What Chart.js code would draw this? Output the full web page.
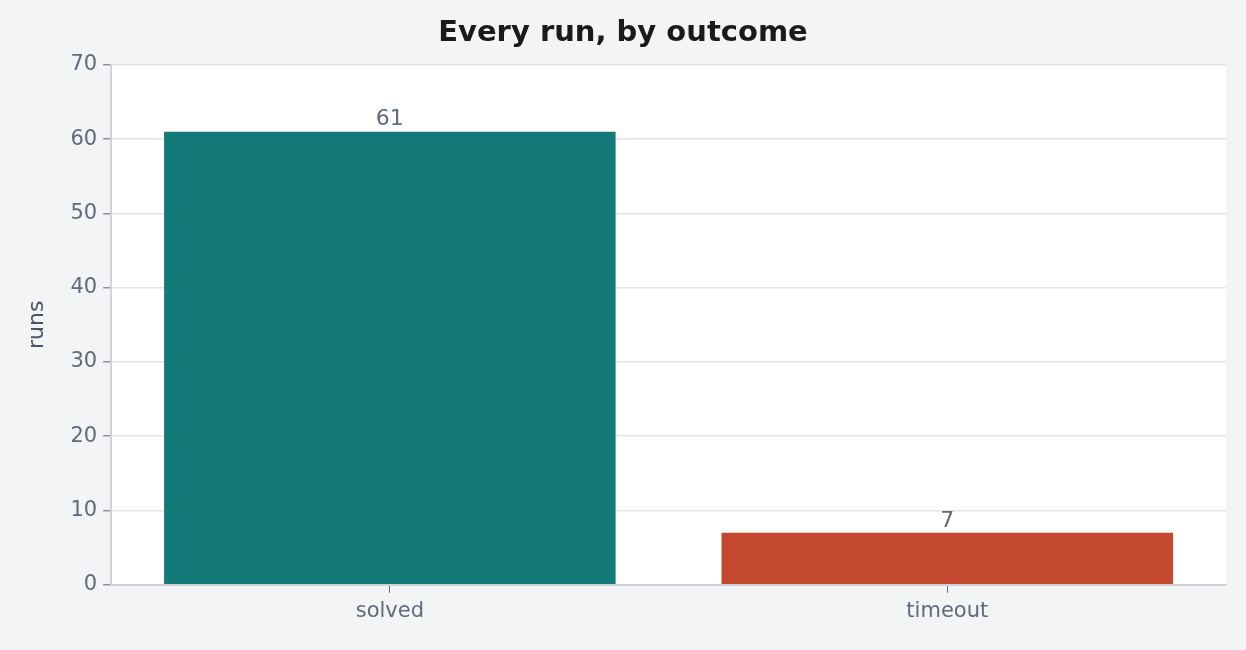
<!DOCTYPE html>
<html><head><meta charset="utf-8">
<script src="https://cdn.jsdelivr.net/npm/chart.js@4"></script>
<style>html,body{margin:0;background:#f3f4f6;}#w{width:1246px;height:650px;}</style>
</head><body><div id="w"><canvas id="c"></canvas></div>
<script>
const categories = ["solved", "timeout"];
const runs = [61, 7];
const colors = ["#137a79", "#c4482e"];
const yTicks = [0, 10, 20, 30, 40, 50, 60, 70];

const bgPlugin = {id:'bg', beforeDraw(ch){const a=ch.chartArea,c=ch.ctx;c.save();c.fillStyle='#ffffff';c.fillRect(a.left,a.top,a.right-a.left,a.bottom-a.top);c.restore();}};
const labelPlugin = {id:'lbl', afterDatasetsDraw(ch){const c=ch.ctx;c.save();c.font='22px "DejaVu Sans"';c.fillStyle='#5f6b7a';c.textAlign='center';c.textBaseline='bottom';
 ch.getDatasetMeta(0).data.forEach((b,i)=>{c.fillText(String(runs[i]),b.x,b.y-1);});c.restore();}};

Chart.defaults.font.family='"DejaVu Sans", sans-serif';
new Chart(document.getElementById('c'),{
 type:'bar',
 data:{labels:categories,datasets:[{data:runs,backgroundColor:colors,barPercentage:0.81,categoryPercentage:1}]},
 options:{responsive:true,maintainAspectRatio:false,animation:false,
  layout:{padding:{left:20,right:20,top:0,bottom:20}},
  plugins:{legend:{display:false},tooltip:{enabled:false},
   title:{display:true,text:'Every run, by outcome',color:'#1a1a1a',font:{size:29,weight:'bold'},padding:{top:16,bottom:14}}},
  scales:{
   x:{grid:{display:true,offset:false,drawOnChartArea:false,drawTicks:true,tickLength:8,color:'#5f6b7a'},border:{color:'#d0d4d9',width:2},
      ticks:{color:'#5f6b7a',font:{size:21},padding:6}},
   y:{min:0,max:70,afterBuildTicks(ax){ax.ticks=yTicks.map(v=>({value:v}));},
      grid:{color:'#e2e4e8',lineWidth:1.5,tickLength:8,tickColor:'#8a939e'},border:{color:'#d0d4d9',width:2},
      ticks:{color:'#5f6b7a',font:{size:21},padding:6},
      title:{display:true,text:'runs',color:'#4a5563',font:{size:22},padding:{bottom:14}}}
  }},
 plugins:[bgPlugin,labelPlugin]
});
</script></body></html>
